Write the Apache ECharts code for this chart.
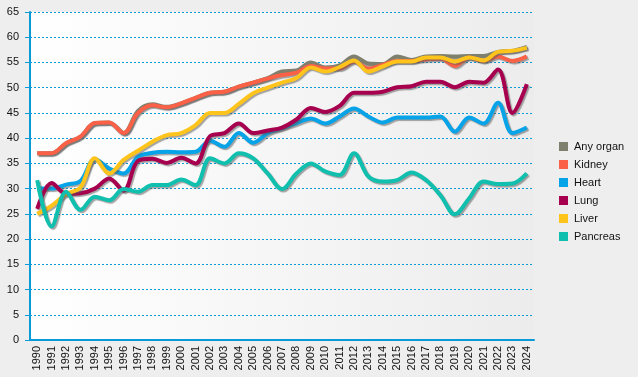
<!DOCTYPE html>
<html>
<head>
<meta charset="utf-8">
<style>
    html, body { margin: 0; padding: 0; background: #eeeeee; }
    #chart { width: 638px; height: 377px; }
</style>
<script src="https://cdn.jsdelivr.net/npm/echarts@6/dist/echarts.min.js"></script>
</head>
<body>
<div id="chart"></div>
<script>
// years on the x axis
const years = [];
for (let y = 1990; y <= 2024; y++) years.push(String(y));

// values
const anyOrgan = [37.0, 37.0, 39.0, 40.3, 43.0, 43.1, 41.0, 45.4, 46.7, 46.2, 46.9, 48.0, 49.0, 49.2, 50.2, 51.0, 51.9, 53.2, 53.4, 55.0,
    54.0, 54.4, 56.2, 54.8, 54.7, 56.2, 55.5, 56.2, 56.3, 56.2, 56.3, 56.3, 57.1, 57.3, 58.1];
const kidney = [37.0, 37.0, 39.0, 40.3, 43.0, 43.1, 41.0, 45.0, 46.5, 46.1, 46.9, 48.0, 49.0, 49.2, 50.2, 51.0, 51.8, 52.5, 53.0, 54.3,
    53.8, 53.8, 55.2, 53.8, 54.5, 55.3, 55.3, 55.6, 55.8, 54.3, 56.0, 55.3, 56.2, 55.3, 56.2];
const heart = [30.0, 30.0, 30.8, 31.5, 35.8, 34.0, 33.0, 36.3, 37.1, 37.3, 37.2, 37.3, 39.5, 38.3, 41.0, 39.1, 41.0, 42.0, 43.0, 43.9,
    42.9, 44.3, 45.9, 44.3, 43.1, 44.1, 44.1, 44.1, 44.3, 41.3, 44.1, 42.9, 47.0, 41.0, 42.1];
const lung = [26.0, 31.1, 29.0, 29.1, 30.0, 32.0, 29.6, 35.5, 35.9, 35.1, 36.1, 35.0, 40.4, 41.0, 42.9, 41.0, 41.5, 42.1, 43.7, 46.0,
    45.2, 46.4, 49.0, 49.0, 49.2, 50.1, 50.3, 51.2, 51.2, 50.1, 51.2, 51.0, 53.6, 45.0, 50.7];
const liver = [25.0, 26.6, 28.9, 30.2, 36.0, 33.0, 35.7, 37.5, 39.3, 40.6, 41.0, 42.6, 45.0, 45.0, 46.8, 48.9, 50.0, 51.0, 51.9, 54.0,
    53.2, 54.1, 55.4, 53.2, 54.2, 55.2, 55.2, 56.0, 56.0, 55.2, 56.0, 55.4, 57.1, 57.3, 57.9];
const pancreas = [31.7, 22.5, 29.4, 25.8, 28.4, 27.7, 29.9, 29.4, 30.7, 30.7, 31.8, 30.7, 36.0, 35.0, 37.0, 36.0, 33.0, 29.9, 33.0, 35.0,
    33.4, 32.7, 37.0, 32.4, 31.4, 31.7, 33.2, 31.7, 28.7, 24.9, 28.1, 31.4, 30.9, 31.0, 33.0];

const seriesNames = ['Any organ', 'Kidney', 'Heart', 'Lung', 'Liver', 'Pancreas'];
const seriesData = [anyOrgan, kidney, heart, lung, liver, pancreas];
const colors = ['#7f7f6e', '#fa6146', '#06a3e8', '#a6004f', '#ffc41c', '#10bfae'];

const blue = '#0a9ad8';

let myChart = echarts.init(document.getElementById('chart'));
let option = {
    backgroundColor: '#eeeeee',
    color: colors,
    animation: false,
    textStyle: { fontFamily: 'Liberation Sans, Arial, sans-serif' },
    grid: {
        left: 30,
        right: 104,
        top: 12,
        bottom: 37,
        show: true,
        borderWidth: 0,
        backgroundColor: new echarts.graphic.LinearGradient(0, 0, 1, 0, [
            { offset: 0, color: '#ffffff' },
            { offset: 1, color: '#ececec' }
        ])
    },
    legend: {
        orient: 'vertical',
        left: 554,
        top: 136,
        itemWidth: 9,
        itemHeight: 9,
        itemGap: 7,
        icon: 'rect',
        data: seriesNames,
        textStyle: { fontSize: 11, color: '#111', padding: [0, 0, 0, 1] }
    },
    xAxis: {
        type: 'category',
        data: years,
        boundaryGap: true,
        axisLine: { lineStyle: { color: blue, width: 2 } },
        axisTick: { alignWithLabel: true, length: 4, lineStyle: { color: blue } },
        axisLabel: { rotate: 90, fontSize: 11, color: '#111', margin: 6, interval: 0 },
        splitLine: { show: false }
    },
    yAxis: {
        type: 'value',
        min: 0,
        max: 65,
        interval: 5,
        axisLine: { show: true, lineStyle: { color: blue, width: 2 } },
        axisTick: { show: true, length: 5, lineStyle: { color: blue } },
        axisLabel: { fontSize: 11, color: '#111', margin: 11 },
        splitLine: { lineStyle: { color: blue, type: [2, 2], width: 1 } }
    },
    series: seriesNames.map((name, i) => ({
        name: name,
        type: 'line',
        data: seriesData[i],
        smooth: 0.35,
        symbol: 'none',
        lineStyle: {
            width: 4,
            color: colors[i],
            shadowColor: 'rgba(90,90,90,0.55)',
            shadowBlur: 1,
            shadowOffsetX: 1.5,
            shadowOffsetY: 1.5
        }
    }))
};
myChart.setOption(option);
</script>
</body>
</html>
